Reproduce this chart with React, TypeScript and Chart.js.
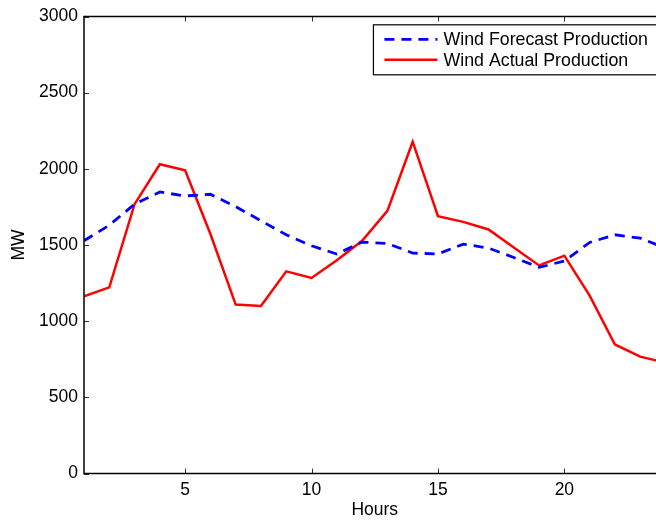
import { useEffect, useRef } from 'react'
import { Chart, registerables } from 'chart.js'
Chart.register(...registerables)

const hours = [1, 2, 3, 4, 5, 6, 7, 8, 9, 10, 11, 12, 13, 14, 15, 16, 17, 18, 19, 20, 21, 22, 23, 24]
const forecast = [1528, 1630, 1768, 1848, 1822, 1833, 1752, 1659, 1567, 1495, 1441, 1519, 1510, 1447, 1441, 1506, 1480, 1418, 1353, 1395, 1517, 1567, 1545, 1480]
const actual = [1163, 1222, 1768, 2030, 1990, 1572, 1109, 1100, 1327, 1284, 1400, 1528, 1724, 2178, 1689, 1652, 1602, 1484, 1366, 1430, 1168, 847, 767, 728]
const xTicks = [5, 10, 15, 20]
const yTicks = [0, 500, 1000, 1500, 2000, 2500, 3000]
const seriesNames = ['Wind Forecast Production', 'Wind Actual Production']

const FONT = '"Liberation Sans", Arial, Helvetica, sans-serif'

// matlab style box + inward ticks
const boxPlugin = {
  id: 'box',
  afterDatasetsDraw(chart: any) {
    const { ctx, chartArea: a, scales } = chart
    ctx.save()
    ctx.strokeStyle = '#333'
    ctx.lineWidth = 1
    ctx.beginPath()
    for (const v of xTicks) {
      const px = Math.round(scales.x.getPixelForValue(v)) + 0.5
      ctx.moveTo(px, a.bottom); ctx.lineTo(px, a.bottom - 5)
      ctx.moveTo(px, a.top); ctx.lineTo(px, a.top + 5)
    }
    for (const v of yTicks) {
      const py = Math.round(scales.y.getPixelForValue(v)) + 0.5
      ctx.moveTo(a.left, py); ctx.lineTo(a.left + 5, py)
      ctx.moveTo(a.right, py); ctx.lineTo(a.right - 5, py)
    }
    ctx.stroke()
    ctx.strokeStyle = '#000'
    ctx.lineWidth = 1.5
    ctx.strokeRect(a.left, a.top, a.right - a.left, a.bottom - a.top)
    ctx.restore()
  },
  afterDraw(chart: any) {
    const { ctx, chartArea: a } = chart
    ctx.save()
    ctx.font = `17.8px ${FONT}`
    const tw = Math.max(...seriesNames.map(s => ctx.measureText(s).width))
    const w = 70 + tw + 12
    const h = 50
    const left = a.right - 5.5 - w
    const top = a.top + 8.3
    ctx.fillStyle = '#fff'
    ctx.fillRect(left, top, w, h)
    ctx.strokeStyle = '#000'
    ctx.lineWidth = 1.2
    ctx.strokeRect(left, top, w, h)
    const rows = [top + 14.5, top + 35]
    const styles = [{ c: '#0000ff', d: [10, 7] }, { c: '#ff0000', d: [] as number[] }]
    rows.forEach((ry, i) => {
      ctx.beginPath()
      ctx.setLineDash(styles[i].d)
      ctx.strokeStyle = styles[i].c
      ctx.lineWidth = i === 0 ? 2.8 : 2.5
      ctx.moveTo(left + 11, ry); ctx.lineTo(left + 64, ry)
      ctx.stroke()
      ctx.setLineDash([])
      ctx.fillStyle = '#000'
      ctx.textBaseline = 'middle'
      ctx.fillText(seriesNames[i], left + 70, ry + 1)
    })
    ctx.restore()
  },
}

export default function App() {
  const ref = useRef<HTMLCanvasElement>(null)
  const inst = useRef<Chart | null>(null)

  useEffect(() => {
    if (!ref.current) return
    inst.current?.destroy()
    inst.current = new Chart(ref.current, {
      type: 'line',
      data: {
        datasets: [
          { label: seriesNames[0], data: hours.map((h, i) => ({ x: h, y: forecast[i] })), borderColor: '#0000ff', borderWidth: 2.8, borderDash: [10, 7], pointRadius: 0, fill: false, tension: 0 },
          { label: seriesNames[1], data: hours.map((h, i) => ({ x: h, y: actual[i] })), borderColor: '#ff0000', borderWidth: 2.5, pointRadius: 0, fill: false, tension: 0 },
        ],
      },
      options: {
        responsive: false, animation: false,
        layout: { padding: { top: 15, right: 14.5, left: 0, bottom: 0 } },
        plugins: { legend: { display: false }, tooltip: { enabled: false } },
        scales: {
          x: {
            type: 'linear', min: 1, max: 24,
            afterBuildTicks: (s: any) => { s.ticks = xTicks.map(v => ({ value: v })) },
            afterFit: (s: any) => { s.height = 49.5 },
            grid: { display: false, drawTicks: false }, border: { display: false },
            ticks: { color: '#000', font: { size: 17.5, family: FONT }, padding: 6, maxRotation: 0, callback: (v: any) => String(v) },
            title: { display: true, text: 'Hours', color: '#000', font: { size: 17.5, family: FONT }, padding: { top: 0, bottom: 2 } },
          },
          y: {
            min: 0, max: 3000,
            afterBuildTicks: (s: any) => { s.ticks = yTicks.map(v => ({ value: v })) },
            afterFit: (s: any) => { s.width = 84 },
            grid: { display: false, drawTicks: false }, border: { display: false },
            ticks: { color: '#000', font: { size: 17.5, family: FONT }, padding: 6, callback: (v: any) => String(v) },
            title: { display: true, text: 'MW', color: '#000', font: { size: 17.5, family: FONT }, padding: { top: 9, bottom: 0 } },
          },
        },
      },
      plugins: [boxPlugin],
    })
    return () => { inst.current?.destroy() }
  }, [])

  return (
    <div style={{ position: 'absolute', left: 0, top: 0, width: 656, height: 523, overflow: 'hidden', background: '#fff' }}>
      <canvas ref={ref} width={680} height={523} style={{ display: 'block', width: 680, height: 523 }} />
    </div>
  )
}
